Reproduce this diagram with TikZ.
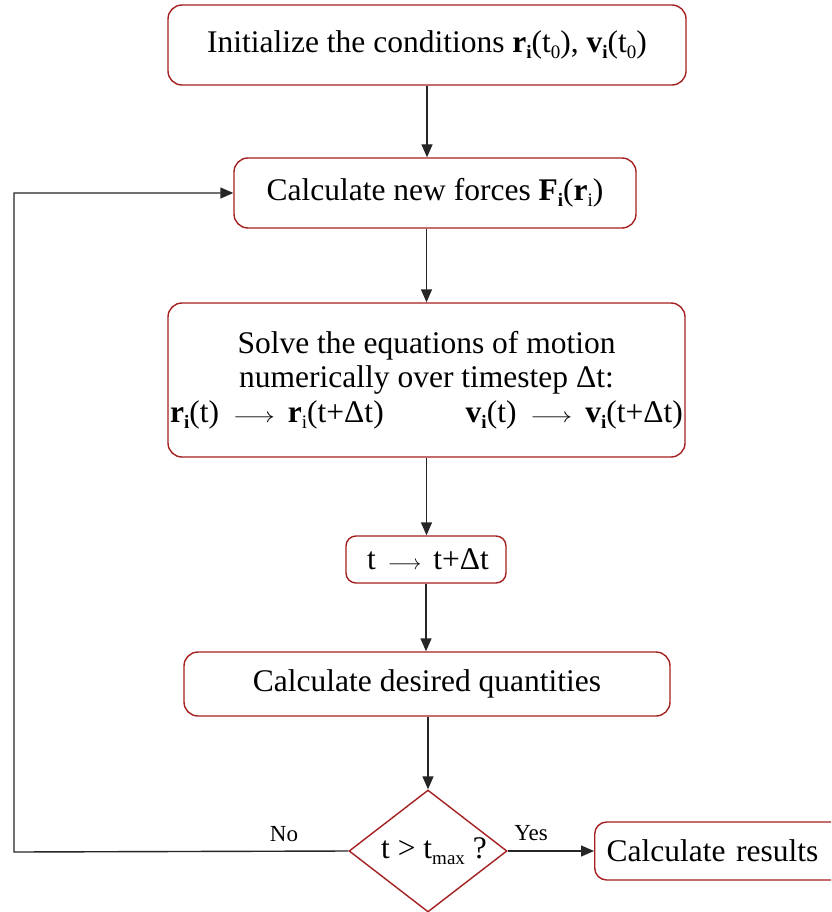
\documentclass[tikz,border=0pt]{standalone}
\usepackage{fontspec}
\usepackage{graphicx}
\setmainfont{Liberation Serif}
\usetikzlibrary{shapes.geometric,arrows.meta}
\definecolor{boxred}{RGB}{165,32,32}
\newcommand\lsub[1]{\raisebox{-6pt}{\fontsize{19}{19}\selectfont #1}}
\newcommand\larr{\scalebox{1.25}[1.0]{\fontsize{22}{22}\selectfont$\longrightarrow$}}
\tikzset{
  box/.style={draw=boxred, line width=1.4pt, rounded corners=14pt, fill=white,
    font=\fontsize{31.5}{34.5}\selectfont, inner sep=0pt, align=center},
  diam/.style={draw=boxred, line width=1.4pt, shape=diamond, inner sep=0pt,
    minimum width=158pt, minimum height=122pt},
  lbl/.style={font=\fontsize{31.5}{34.5}\selectfont, inner sep=0pt},
  small/.style={font=\fontsize{23}{25}\selectfont, inner sep=0pt},
  arr/.style={-{Triangle[length=13pt,width=11pt]}, line width=1.4pt, draw=black!85}
}
\begin{document}
\begin{tikzpicture}[x=1pt,y=-1pt]
\clip (0,0) rectangle (831,912);
\fill[white] (0,0) rectangle (831,912);

\node[box, minimum width=518pt, minimum height=80pt] (init) at (427,45)
  {Initialize the conditions \textbf{r}\lsub{\textbf{i}}(t\lsub{0}), \textbf{v}\lsub{\textbf{i}}(t\lsub{0})};
\node[box, minimum width=402pt, minimum height=70pt] (forces) at (435,193)
  {Calculate new forces \textbf{F}\lsub{\textbf{i}}(\textbf{r}\lsub{i})};
\node[box, minimum width=517pt, minimum height=154pt] (solve) at (426.5,380)
  {Solve the equations of motion\\
   numerically over timestep Δt:\\
   \textbf{r}\lsub{\textbf{i}}(t)\hspace{14pt}\larr\hspace{13pt}\textbf{r}\lsub{i}(t+Δt)\hspace{82pt}\textbf{v}\lsub{\textbf{i}}(t)\hspace{14pt}\larr\hspace{13pt}\textbf{v}\lsub{\textbf{i}}(t+Δt)};
\node[box, minimum width=160pt, minimum height=47pt, rounded corners=10pt] (tstep) at (426,559.5)
  {\hspace{4pt}t\hspace{12pt}{\fontsize{20}{20}\selectfont$\longrightarrow$}\hspace{12pt}t+Δt};
\node[box, minimum width=486pt, minimum height=64pt] (desired) at (427,684)
  {Calculate desired quantities};
\node[diam] (dec) at (428,851) {};
\node[lbl] (dect) at (434,851) {t > t\lsub{max} ?};
\node[box, anchor=west, minimum width=250pt, minimum height=58pt, text width=226pt,
  inner xsep=12pt, align=left, rounded corners=12pt] (res) at (594,851) {Calculate results};

\coordinate (lp) at (14,852);
\draw[arr] (init.south) -- (init.south |- forces.north);
\draw[arr] (solve.north |- forces.south) -- (solve.north);
\draw[arr] (solve.south) -- (solve.south |- tstep.north);
\draw[arr] (tstep.south) -- (tstep.south |- desired.north);
\draw[arr] (dec.north |- desired.south) -- (dec.north);
\draw[arr] (dec.west) -- (lp) |- (forces.west);
\draw[arr] (dec.east) -- (res.west);

\node[small] (no) at (284,834) {No};
\node[small] (yes) at (531,833) {Yes};
\end{tikzpicture}
\end{document}
